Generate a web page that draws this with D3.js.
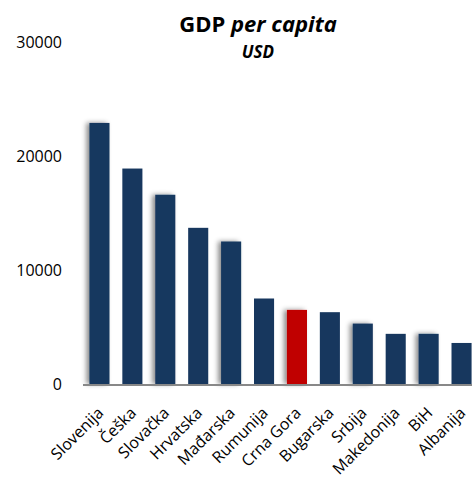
<!DOCTYPE html>
<html><head><meta charset="utf-8">
<script src="https://cdn.jsdelivr.net/npm/d3@7"></script>
<style>body{margin:0;background:#fff}svg{display:block}</style>
</head><body>
<script>
const categories = ["Slovenija","Češka","Slovačka","Hrvatska","Mađarska","Rumunija","Crna Gora","Bugarska","Srbija","Makedonija","BiH","Albanija"];
const values = [22900,18900,16600,13700,12500,7500,6500,6300,5300,4400,4400,3600];
const highlight = ["Crna Gora"];
const yTicks = [0,10000,20000,30000];

const W = 472, H = 482;
const svg = d3.select("body").append("svg").attr("width", W).attr("height", H);
const defs = svg.append("defs");
const f = defs.append("filter").attr("id","sh").attr("x","-50%").attr("y","-10%").attr("width","200%").attr("height","120%");
f.append("feDropShadow").attr("dx",-3).attr("dy",0).attr("stdDeviation",2.5).attr("flood-color","#000").attr("flood-opacity",0.45);

const x = d3.scaleBand().domain(categories).range([83,478]).paddingInner(0.39).paddingOuter(0.195);
const y = d3.scaleLinear().domain([0,30000]).range([384,42]);

svg.append("g").selectAll("rect").data(categories).join("rect")
  .attr("x", d => x(d)).attr("width", x.bandwidth())
  .attr("y", (d,i) => y(values[i])).attr("height", (d,i) => y(0) - y(values[i]))
  .attr("fill", d => highlight.includes(d) ? "#C00000" : "#17375E")
  .attr("filter", (d,i) => i % 2 === 0 ? "url(#sh)" : null);

svg.append("line").attr("x1",83).attr("x2",W).attr("y1",y(0)+1).attr("y2",y(0)+1)
  .attr("stroke","#888").attr("stroke-width",2);

const font = "'Open Sans', sans-serif";
svg.append("g").selectAll("text").data(yTicks).join("text")
  .attr("x",62).attr("y", d => y(d)).attr("dy","0.35em")
  .attr("text-anchor","end").attr("font-family",font).attr("font-size",16).attr("fill","#000")
  .text(d => d);

svg.append("g").selectAll("text").data(categories).join("text")
  .attr("transform", d => `translate(${x(d)+x.bandwidth()/2+1},${410}) rotate(-45)`)
  .attr("text-anchor","end").attr("dy","0.35em")
  .attr("font-family",font).attr("font-size",16).attr("fill","#000")
  .text(d => d);

const t = svg.append("text").attr("x",258).attr("y",32).attr("text-anchor","middle")
  .attr("font-family",font).attr("font-size",22).attr("font-weight","bold").attr("fill","#000");
t.append("tspan").text("GDP ");
t.append("tspan").attr("font-style","italic").text("per capita");
svg.append("text").attr("x",258).attr("y",58).attr("text-anchor","middle")
  .attr("font-family",font).attr("font-size",17).attr("font-weight","bold").attr("font-style","italic")
  .text("USD");
</script>
</body></html>
